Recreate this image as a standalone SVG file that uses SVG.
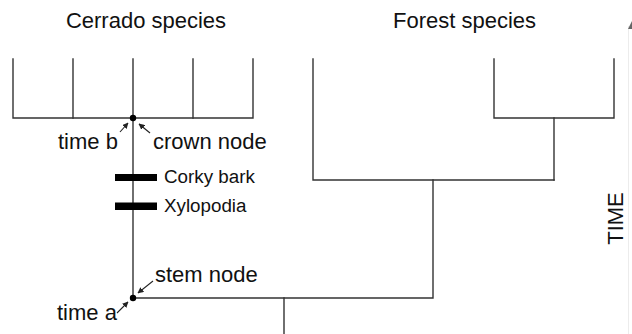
<svg xmlns="http://www.w3.org/2000/svg" width="632" height="334" viewBox="0 0 632 334">
  <defs>
    <style>
      .br { fill: none; stroke: #333; stroke-width: 1.4; stroke-linecap: square; }
      .lbl { font-family: "Liberation Sans", Arial, sans-serif; font-size: 22px; fill: #111; }
      .trait { font-family: "Liberation Sans", Arial, sans-serif; font-size: 18.8px; fill: #111; }
      .ptr { fill: none; stroke: #222; stroke-width: 1.1; marker-end: url(#tip); }
      .bar { fill: #000; }
    </style>
    <marker id="tip" viewBox="0 0 10 10" refX="9" refY="5" markerWidth="6" markerHeight="6" orient="auto" markerUnits="userSpaceOnUse">
      <path d="M0,0 L10,5 L0,10 z" fill="#222"/>
    </marker>
  </defs>

  <rect width="632" height="334" fill="#fff"/>

  <!-- clade headings -->
  <text class="lbl" x="146" y="28" text-anchor="middle">Cerrado species</text>
  <text class="lbl" x="464.5" y="28" text-anchor="middle">Forest species</text>

  <!-- tree branches -->
  <g id="connectors">
    <!-- cerrado clade -->
    <path class="br" d="M13,59 V118 H253 V59"/>
    <path class="br" d="M73,59 V118"/>
    <path class="br" d="M133,59 V298"/>
    <path class="br" d="M193,59 V118"/>
    <!-- forest clade -->
    <path class="br" d="M494,59 V118 H614 V59"/>
    <path class="br" d="M554,118 V180"/>
    <path class="br" d="M313,59 V180 H554"/>
    <path class="br" d="M433,180 V298 H133"/>
    <path class="br" d="M284,298 V334"/>
    <!-- pointers to nodes -->
    <line class="ptr" x1="120" y1="132" x2="128" y2="123"/>
    <line class="ptr" x1="150" y1="133" x2="139" y2="124"/>
    <line class="ptr" x1="153" y1="281" x2="138" y2="293"/>
    <line class="ptr" x1="117" y1="313" x2="128" y2="302"/>
    <!-- time axis at the right edge -->
    <line x1="628.5" y1="26" x2="628.5" y2="334" stroke="#ececec" stroke-width="1"/>
    <polygon points="634,17 628,29 640,29" fill="#666"/>
  </g>

  <g id="crown-node">
    <circle cx="133" cy="118" r="3.2" fill="#000"/>
    <text class="lbl" x="153" y="149">crown node</text>
    <text class="lbl" x="58" y="149">time b</text>
  </g>

  <g id="stem-node">
    <circle cx="133" cy="298" r="3.2" fill="#000"/>
    <text class="lbl" x="155" y="282">stem node</text>
    <text class="lbl" x="57" y="320">time a</text>
  </g>

  <g id="trait-corky-bark">
    <rect class="bar" x="115" y="174" width="42" height="7"/>
    <text class="trait" x="164" y="183">Corky bark</text>
  </g>

  <g id="trait-xylopodia">
    <rect class="bar" x="115" y="202.5" width="42" height="7.5"/>
    <text class="trait" x="164" y="212">Xylopodia</text>
  </g>

  <g id="time-axis-label">
    <text class="lbl" transform="translate(623,218.5) rotate(-90)" text-anchor="middle">TIME</text>
  </g>
</svg>
